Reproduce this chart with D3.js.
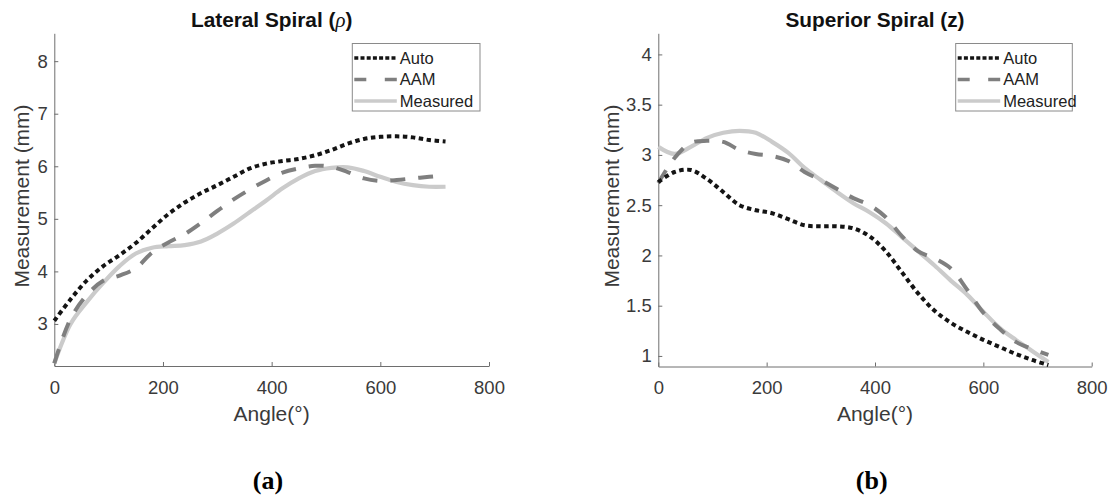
<!DOCTYPE html>
<html>
<head>
<meta charset="utf-8">
<script src="https://cdn.jsdelivr.net/npm/d3@7"></script>
<style>
  body { margin: 0; background: #fff; }
  svg  { display: block; font-family: 'Liberation Sans', Arial, sans-serif; }
  .axis path, .axis line { stroke: #6e6e6e; }
  .axis text { fill: #3a3a3a; font-size: 18.5px; }
  .title { font-weight: bold; font-size: 20.8px; fill: #111; }
  .label { font-size: 21px; fill: #3a3a3a; }
  .panel-tag { font-family: 'Liberation Serif', 'Times New Roman', serif; font-weight: bold; font-size: 26px; fill: #000; }
  .legend text { font-size: 16.5px; fill: #222; }
</style>
</head>
<body>
<svg id="chart" width="1116" height="498"></svg>
<script>

// Angles (degrees) shared by every series.
const angles = [ 0, 30, 60, 90, 120, 150, 180, 210, 240, 270, 300, 330, 360,
                 390, 420, 450, 480, 510, 540, 570, 600, 630, 660, 690, 720 ];

// (a) Lateral spiral (rho), mm.
const lateralAuto     = [ 3.06, 3.47, 3.83, 4.10, 4.31, 4.54, 4.82, 5.09, 5.31, 5.49, 5.64, 5.80, 5.96,
                          6.05, 6.10, 6.14, 6.21, 6.31, 6.43, 6.52, 6.56, 6.57, 6.55, 6.50, 6.47 ];
const lateralAAM      = [ 2.25, 3.10, 3.55, 3.82, 3.92, 4.06, 4.36, 4.55, 4.71, 4.92, 5.15, 5.37, 5.56,
                          5.73, 5.88, 5.96, 6.01, 5.99, 5.89, 5.77, 5.72, 5.74, 5.77, 5.80, 5.83 ];
const lateralMeasured = [ 2.25, 3.00, 3.42, 3.78, 4.10, 4.34, 4.45, 4.48, 4.50, 4.57, 4.72, 4.91, 5.13,
                          5.35, 5.58, 5.77, 5.91, 5.97, 5.98, 5.91, 5.80, 5.70, 5.64, 5.61, 5.61 ];

// (b) Superior spiral (z), mm.
const superiorAuto     = [ 2.73, 2.83, 2.85, 2.76, 2.63, 2.50, 2.45, 2.42, 2.36, 2.30, 2.29, 2.29, 2.27,
                           2.19, 2.04, 1.83, 1.62, 1.45, 1.33, 1.24, 1.16, 1.09, 1.02, 0.96, 0.91 ];
const superiorAAM      = [ 2.72, 2.97, 3.12, 3.14, 3.13, 3.05, 3.01, 2.99, 2.94, 2.83, 2.75, 2.66, 2.57,
                           2.50, 2.38, 2.19, 2.04, 1.97, 1.87, 1.66, 1.43, 1.27, 1.14, 1.07, 1.01 ];
const superiorMeasured = [ 3.08, 3.01, 3.08, 3.17, 3.22, 3.24, 3.22, 3.13, 3.02, 2.87, 2.75, 2.63, 2.52,
                           2.43, 2.32, 2.18, 2.04, 1.90, 1.75, 1.61, 1.44, 1.28, 1.16, 1.05, 0.94 ];

// Ticks and labels.
const xTicks         = [ 0, 200, 400, 600, 800 ];
const lateralYTicks  = [ 3, 4, 5, 6, 7, 8 ];
const superiorYTicks = [ 1, 1.5, 2, 2.5, 3, 3.5, 4 ];
const seriesNames    = [ 'Auto', 'AAM', 'Measured' ];
const titles         = [ 'Lateral Spiral (', 'Superior Spiral (z)' ];
const panelTags      = [ '(a)', '(b)' ];

// Line styles, one per series.
const styles = [
  { color: '#141414', width: 4,   dash: '4.5,3.5' },
  { color: '#7f7f7f', width: 4,   dash: '15,13'   },
  { color: '#cbcbcb', width: 4.2, dash: null      }
];

const svg = d3.select( '#chart' );

// Builds one panel (axes, lines, legend, labels).
class PanelBuilder {

  constructor ( opts ) {
    this.opts = opts;
    this.g    = svg.append( 'g' );
    this.x    = d3.scaleLinear( ).domain( [ 0, 800 ] ).range( [ opts.left, opts.right ] );
    this.y    = d3.scaleLinear( ).domain( opts.yDomain ).range( [ opts.bottom, opts.top ] );
  }

  drawAxes ( ) {
    const o = this.opts;
    const xAxis = d3.axisBottom( this.x )
      .tickValues( xTicks ).tickFormat( d3.format( 'd' ) )
      .tickSizeInner( -4 ).tickSizeOuter( 0 ).tickPadding( 14.5 );
    const yAxis = d3.axisLeft( this.y )
      .tickValues( o.yTicks ).tickFormat( d3.format( '~g' ) )
      .tickSizeInner( -4 ).tickSizeOuter( 0 ).tickPadding( 6.5 );

    this.g.append( 'g' ).attr( 'class', 'axis' )
      .attr( 'transform', `translate( 0, ${o.bottom} )` )
      .call( xAxis )
      .call( g => g.selectAll( 'text' ).attr( 'font-family', null ).attr( 'font-size', null ) );
    this.g.append( 'g' ).attr( 'class', 'axis' )
      .attr( 'transform', `translate( ${o.left}, 0 )` )
      .call( yAxis )
      .call( g => g.selectAll( 'text' ).attr( 'font-family', null ).attr( 'font-size', null ) );
    return this;
  }

  drawLines ( ) {
    const line = d3.line( )
      .x( d => this.x( d[ 0 ] ) )
      .y( d => this.y( d[ 1 ] ) )
      .curve( d3.curveCatmullRom.alpha( 0.5 ) );
    // Measured first so the darker lines sit on top.
    [ 2, 1, 0 ].forEach( i => {
      const pts = angles.map( ( a, j ) => [ a, this.opts.series[ i ][ j ] ] );
      this.g.append( 'path' )
        .attr( 'd', line( pts ) )
        .attr( 'fill', 'none' )
        .attr( 'stroke', styles[ i ].color )
        .attr( 'stroke-width', styles[ i ].width )
        .attr( 'stroke-dasharray', styles[ i ].dash );
    } );
    return this;
  }

  drawLegend ( ) {
    const o   = this.opts;
    const leg = this.g.append( 'g' ).attr( 'class', 'legend' )
      .attr( 'transform', `translate( ${o.legendX}, 43.5 )` );
    leg.append( 'rect' )
      .attr( 'width', o.legendW ).attr( 'height', 67.5 )
      .attr( 'fill', '#fff' ).attr( 'stroke', '#8a8a8a' ).attr( 'stroke-width', 1 );
    seriesNames.forEach( ( name, i ) => {
      const yy = 14.5 + i * 21.5;
      leg.append( 'line' )
        .attr( 'x1', 2 ).attr( 'x2', 44.5 ).attr( 'y1', yy ).attr( 'y2', yy )
        .attr( 'stroke', styles[ i ].color )
        .attr( 'stroke-width', 3.5 )
        .attr( 'stroke-dasharray', i === 0 ? '4,2.2' : i === 1 ? '12,18.5' : null );
      leg.append( 'text' )
        .attr( 'x', 47.5 ).attr( 'y', yy ).attr( 'dy', '0.36em' )
        .text( name );
    } );
    return this;
  }

  drawLabels ( ) {
    const o  = this.opts;
    const cx = ( o.left + o.right ) / 2;
    const t  = this.g.append( 'text' ).attr( 'class', 'title' )
      .attr( 'x', cx ).attr( 'y', 27 ).attr( 'text-anchor', 'middle' );
    if ( o.rho ) {
      t.append( 'tspan' ).text( o.title );
      t.append( 'tspan' ).attr( 'font-family', "'Liberation Serif', serif" ).attr( 'font-style', 'italic' )
        .attr( 'font-weight', 'normal' ).text( 'ρ' );
      t.append( 'tspan' ).text( ')' );
    } else {
      t.text( o.title );
    }
    this.g.append( 'text' ).attr( 'class', 'label' )
      .attr( 'x', cx ).attr( 'y', 420.5 ).attr( 'text-anchor', 'middle' )
      .text( 'Angle(°)' );
    this.g.append( 'text' ).attr( 'class', 'label' )
      .attr( 'transform', `translate( ${o.labelX}, 196 ) rotate( -90 )` )
      .attr( 'text-anchor', 'middle' )
      .text( 'Measurement (mm)' );
    this.g.append( 'text' ).attr( 'class', 'panel-tag' )
      .attr( 'x', o.tagX ).attr( 'y', 489 ).attr( 'text-anchor', 'middle' )
      .text( o.tag );
    return this;
  }
}

new PanelBuilder( {
  left: 54.3, right: 489, top: 33.3, bottom: 366,
  yDomain: [ 2.2, 8.53 ], yTicks: lateralYTicks,
  series: [ lateralAuto, lateralAAM, lateralMeasured ],
  legendX: 352.3, legendW: 127.7, labelX: 29.2,
  title: titles[ 0 ], rho: true, tag: panelTags[ 0 ], tagX: 268
} ).drawAxes( ).drawLines( ).drawLegend( ).drawLabels( );

new PanelBuilder( {
  left: 658.3, right: 1091.7, top: 33.3, bottom: 366.5,
  yDomain: [ 0.895, 4.21 ], yTicks: superiorYTicks,
  series: [ superiorAuto, superiorAAM, superiorMeasured ],
  legendX: 955.7, legendW: 116.6, labelX: 619.2,
  title: titles[ 1 ], rho: false, tag: panelTags[ 1 ], tagX: 871.7
} ).drawAxes( ).drawLines( ).drawLegend( ).drawLabels( );

</script>
</body>
</html>
